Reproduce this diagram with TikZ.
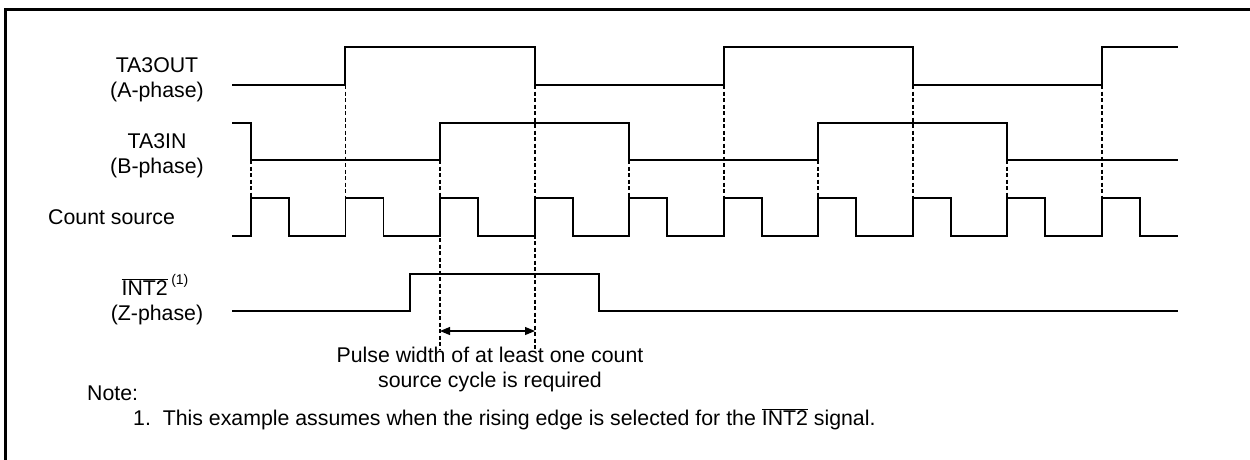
\documentclass[tikz,border=0pt]{standalone}
\usepackage{fontspec}
\setmainfont{Liberation Sans}
\usetikzlibrary{arrows.meta}
\begin{document}
\begin{tikzpicture}[x=1pt,y=-1pt,
  sig/.style={line width=1.7pt, line join=miter},
  guide/.style={line width=1.4pt, dash pattern=on 4pt off 2.5pt},
  lbl/.style={anchor=base, font=\fontsize{21.3}{25}\selectfont, inner sep=0pt},
  dimline/.style={line width=1.1pt, {Triangle[length=10pt,width=8pt]}-{Triangle[length=10pt,width=8pt]}},
  frame/.style={line width=2.5pt}]
\useasboundingbox (0,0) rectangle (1250,459);
\clip (0,0) rectangle (1250,459);
\draw[frame] (5.3,9.3) rectangle (1262,472);

% labels
\node[lbl] (laA1) at (157,72) {TA3OUT};
\node[lbl] (laA2) at (157,97) {(A-phase)};
\node[lbl] (laB1) at (157,148) {TA3IN};
\node[lbl] (laB2) at (157,173) {(B-phase)};
\node[lbl, anchor=base west] (laC) at (48,224) {Count source};
\node[lbl] (laZ1) at (155,295) {$\overline{\mbox{INT2}}$\,\raisebox{0.5em}{\fontsize{14}{16}\selectfont (1)}};
\node[lbl] (laZ2) at (157,320) {(Z-phase)};

% A-phase
\draw[sig] (232,85) -- (345,85) -- (345,47) -- (535,47) -- (535,85) -- (724,85) -- (724,47)
  -- (913,47) -- (913,85) -- (1102,85) -- (1102,47) -- (1178,47);
% B-phase
\draw[sig] (232,123) -- (251,123) -- (251,160) -- (440,160) -- (440,123) -- (629,123) -- (629,160)
  -- (818,160) -- (818,123) -- (1007,123) -- (1007,160) -- (1178,160);
% Count source
\draw[sig] (232,236) foreach \x in {251,345.5,440,535,629,724,818,913,1007,1102} {
  -- (\x,236) -- (\x,198) -- (\x+38,198) -- (\x+38,236) } -- (1178,236);
% Z-phase
\draw[sig] (232,311) -- (410,311) -- (410,274) -- (599,274) -- (599,311) -- (1178,311);

% guide coordinates
\foreach \x [count=\i] in {345.5,724,913,1102} {
  \coordinate (ga\i) at (\x,85);
  \coordinate (gc\i) at (\x,198);
}
\foreach \x [count=\i] in {251,629,818,1007} {
  \coordinate (gb\i) at (\x,160);
  \coordinate (gd\i) at (\x,198);
}
\coordinate (gbS) at (440,160);
\coordinate (gbE) at (440,350);
\coordinate (gaS) at (535,85);
\coordinate (gaE) at (535,350);
\foreach \i in {1,2,3,4} {
  \draw[guide] (ga\i) -- (gc\i);
  \draw[guide] (gb\i) -- (gd\i);
}
\draw[guide] (gbS) -- (gbE);
\draw[guide] (gaS) -- (gaE);

% dimension arrow
\coordinate (dl) at (440,331);
\coordinate (dr) at (535,331);
\draw[dimline] (dl) -- (dr);

\node[lbl, align=center, anchor=base] (pw) at (490,387)
  {Pulse width of at least one count\\source cycle is required};

\node[lbl, anchor=base west] (note) at (87,400) {Note:};
\node[lbl, anchor=base west] (note1) at (133,425)
  {1.\ \ This example assumes when the rising edge is selected for the $\overline{\mbox{INT2}}$ signal.};
\end{tikzpicture}
\end{document}
